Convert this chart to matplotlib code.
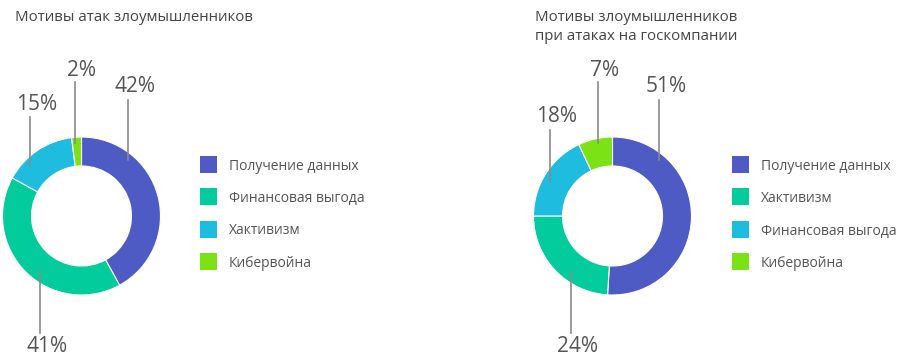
import matplotlib.pyplot as plt

plt.rcParams['font.family'] = ['Open Sans', 'DejaVu Sans']

# данные
titles = ["Мотивы атак злоумышленников",
          "Мотивы злоумышленников\nпри атаках на госкомпании"]
labels_left = ["Получение данных", "Финансовая выгода", "Хактивизм", "Кибервойна"]
values_left = [42, 41, 15, 2]
labels_right = ["Получение данных", "Хактивизм", "Финансовая выгода", "Кибервойна"]
values_right = [51, 24, 18, 7]
colors = ["#4e5bc5", "#02cc9b", "#1ebcde", "#7be216"]

W, H = 900, 360
fig = plt.figure(figsize=(9, 3.6), dpi=100)
ax = fig.add_axes([0, 0, 1, 1])
ax.set_xlim(0, W)
ax.set_ylim(0, H)
ax.set_aspect('equal')
ax.axis('off')

# раскладка (пиксели от верхнего левого угла)
panels = [
    dict(values=values_left, labels=labels_left, title=titles[0],
         cx=81.5, cy=216, title_x=15, leg_x=200,
         # (x линии, верх линии, низ линии, y текста)
         callouts=[(128, 100, 160, 87), (40, 272, 333, 347),
                   (30, 117, 166, 105), (75, 82, 143, 70)]),
    dict(values=values_right, labels=labels_right, title=titles[1],
         cx=612.5, cy=216, title_x=535, leg_x=732,
         callouts=[(659, 100, 160, 87), (571, 272, 333, 347),
                   (550, 130, 182, 117), (598, 82, 143, 70)]),
]

R = 79
for p in panels:
    ax.pie(p['values'], colors=colors, startangle=90, counterclock=False,
           center=(p['cx'], H - p['cy']), radius=R,
           wedgeprops=dict(width=29, edgecolor='white', linewidth=0.8))
    ax.text(p['title_x'], H - 10, p['title'], fontsize=10.8, color='#444444',
            ha='left', va='top', linespacing=1.35)
    for v, (lx, y0, y1, ty) in zip(p['values'], p['callouts']):
        ax.plot([lx, lx], [H - y0, H - y1], color='#8a8a8a', lw=1.2, zorder=5)
        ax.text(lx + 7, H - ty, f"{v}%", fontsize=15, color='#555555',
                ha='center', va='center')
    for i, (lab, c) in enumerate(zip(p['labels'], colors)):
        yc = 164 + i * 32.5
        ax.add_patch(plt.Rectangle((p['leg_x'], H - yc - 8.5), 17, 17,
                                   facecolor=c, edgecolor='none'))
        ax.text(p['leg_x'] + 29, H - yc - 2, lab, fontsize=10, color='#555555',
                ha='left', va='center')

ax.set_xlim(0, W)
ax.set_ylim(0, H)
fig.savefig("out.png", dpi=100)
